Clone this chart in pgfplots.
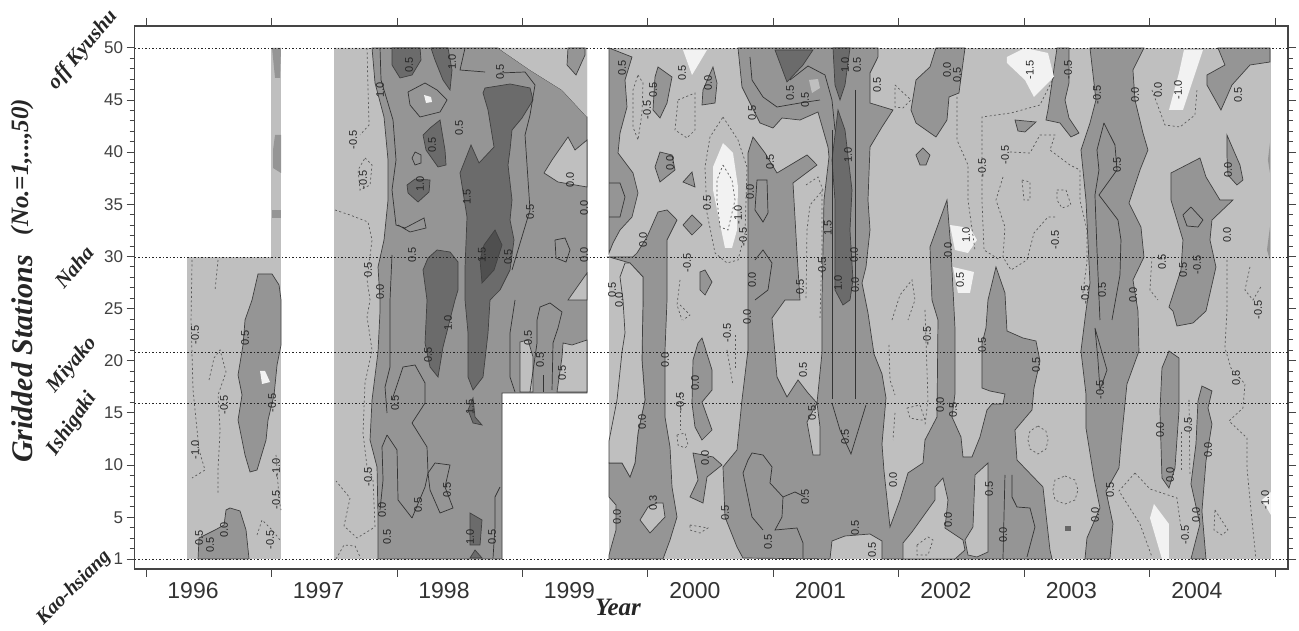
\documentclass[border=0pt]{standalone}
\usepackage{pgfplots}
\pgfplotsset{compat=1.18}
\usepackage{fontspec}
\setmainfont{Liberation Sans}
\newfontfamily\ser{Liberation Serif}
\definecolor{lig}{gray}{0.75}
\definecolor{med}{gray}{0.585}
\definecolor{drk}{gray}{0.42}
\definecolor{dkr}{gray}{0.31}
\definecolor{wht}{gray}{0.95}
\definecolor{fr}{gray}{0.27}
\tikzset{
 L/.style={fill=lig,draw=none},
 M/.style={fill=med,draw=black!75,line width=0.7pt},
 H/.style={fill=lig,draw=black!75,line width=0.7pt},
 D/.style={fill=drk,draw=black!75,line width=0.7pt},
 K/.style={fill=dkr,draw=black!75,line width=0.7pt},
 W/.style={fill=wht,draw=none},
 S/.style={draw=black!80,line width=0.7pt},
 Q/.style={draw=black!65,line width=0.7pt,dash pattern=on 2pt off 2.5pt},
 Z/.style={draw=black!85,line width=0.9pt,dash pattern=on 1.5pt off 2pt},
}
\newcommand\lbl[3]{\node[font=\fontsize{11}{11}\selectfont,rotate=90,text=black!85,inner sep=0pt] at (#1-134.5,569-#2) {#3};}
\newcommand\stn[5]{\node[font=\ser\itshape\bfseries\fontsize{#5}{#5}\selectfont,rotate=#4,text=black!85,inner sep=0pt] at (#1-134.5,569-#2) {#3};}
\begin{document}
\begin{tikzpicture}
\path[use as bounding box] (-134.5pt,-62pt) rectangle (1164.5pt,569pt);
\begin{axis}[
 at={(0pt,0pt)},anchor=south west,scale only axis,width=1153.5pt,height=543pt,
 xmin=1995.908,xmax=2005.1,ymin=0.043,ymax=52.09,
 x filter/.expression={(x-146)/125.5+1996},
 y filter/.expression={50-(y-47.8)/10.433},
 xtick={1996,...,2005},
 xticklabels={1996,1997,1998,1999,2000,2001,2002,2003,2004},
 ytick={1,5,10,15,20,25,30,35,40,45,50},
 tick align=outside,tick pos=both,xticklabel pos=bottom,yticklabel pos=left,
 major tick length=8pt,
 tick style={draw=fr,line width=0.9pt},
 axis line style={draw=fr,line width=1.8pt},
 x tick label style={font=\fontsize{23}{23}\selectfont,text=black!80,xshift=47pt,yshift=-2pt},
 y tick label style={font=\fontsize{17}{17}\selectfont,text=black!75},
 /pgf/number format/assume math mode=true,
 no markers,
]
% light backgrounds
\addplot[L] coordinates {(187,257)(281,257)(281,559)(187,559)} --cycle;
\addplot[L] coordinates {(271,48)(281,48)(281,257)(271,257)} --cycle;
\addplot[L] coordinates {(334,48)(587,48)(587,393)(502,393)(502,559)(334,559)} --cycle;
\addplot[L] coordinates {(609,48)(1271,48)(1271,559)(609,559)} --cycle;
% 1996
\addplot[M] coordinates {(258,274)(272,274)(279,285)(281,300)(281,345)(277,365)(274,395)(268,420)(266,440)(257,470)(250,472)(245,455)(238,420)(242,395)(238,375)(243,345)(245,320)(252,300)} --cycle;
\addplot[W] coordinates {(260,371)(265,371)(270,382)(262,384)} --cycle;
\addplot[M] coordinates {(230,508)(240,511)(246,530)(249,559)(198,559)(199,538)(215,530)(224,525)(226,510)} --cycle;
\addplot[fill=med,draw=none] coordinates {(272,48)(281,48)(280,78)(275,78)} --cycle;
\addplot[fill=med,draw=none] coordinates {(275,135)(281,135)(281,173)(273,168)(273,150)} --cycle;
\addplot[fill=med,draw=none] coordinates {(272,210)(281,210)(281,218)(272,218)} --cycle;
% 1997--1999 medium
\addplot[M] coordinates {(372,48)(498,48)(530,70)(562,90)(587,117)(587,393)(502,393)(502,559)(378,559)(378,517)(377,467)(370,440)(372,400)(378,352)(380,311)(380,300)(378,267)(384,240)(388,200)(388,160)(384,117)(375,83)} --cycle;
\addplot[fill=lig,draw=none] coordinates {(564,48)(587,48)(587,117)(562,90)(530,70)(498,48)} --cycle;
\addplot[M] coordinates {(568,48)(585,48)(585,55)(576,75)(567,65)} --cycle;
\addplot[H] coordinates {(568,137)(575,150)(587,140)(587,187)(558,182)(544,173)(552,160)} --cycle;
\addplot[H] coordinates {(568,300)(587,273)(587,300)} --cycle;
\addplot[H] coordinates {(520,392)(520,342)(528,340)(533,357)(533,392)} --cycle;
\addplot[H] coordinates {(557,392)(562,357)(563,343)(572,345)(587,340)(587,392)} --cycle;
\addplot[D] coordinates {(392,48)(420,48)(421,60)(412,75)(400,78)(392,65)} --cycle;
\addplot[D] coordinates {(431,48)(448,48)(452,70)(450,90)(443,80)(435,60)} --cycle;
\addplot[D] coordinates {(440,120)(445,150)(446,165)(438,167)(426,150)(423,135)(430,128)} --cycle;
\addplot[D] coordinates {(407,185)(415,179)(430,180)(429,192)(418,202)(408,193)} --cycle;
\addplot[D] coordinates {(485,88)(510,84)(530,88)(533,100)(522,118)(512,130)(510,150)(508,165)(512,200)(510,220)(514,240)(510,270)(500,290)(490,300)(488,333)(483,377)(473,390)(468,377)(468,333)(465,300)(465,267)(467,217)(460,173)(471,145)(479,163)(494,147)(488,110)(483,93)} --cycle;
\addplot[D] coordinates {(473,398)(475,417)(482,425)(473,423)(468,410)} --cycle;
\addplot[K] coordinates {(495,230)(502,245)(494,270)(482,283)(480,260)(484,245)} --cycle;
\addplot[D] coordinates {(437,250)(450,252)(458,262)(458,290)(455,300)(443,347)(438,377)(430,367)(425,343)(427,300)(423,270)(428,258)} --cycle;
\addplot[D] coordinates {(470,513)(482,520)(480,545)(470,545)} --cycle;
\addplot[D] coordinates {(470,558)(475,550)(482,558)} --cycle;
\addplot[W] coordinates {(424,95)(431,97)(432,102)(426,103)} --cycle;
% 2000: medium
\addplot[M] coordinates {(609,48)(632,57)(625,80)(627,107)(620,133)(618,153)(633,173)(638,193)(632,217)(620,230)(613,243)(609,253)} --cycle;
\addplot[M] coordinates {(609,257)(630,263)(643,277)(643,300)(642,360)(645,400)(638,433)(635,463)(630,477)(622,463)(609,463)(609,497)(616,505)(616,530)(609,555)(609,559)(663,559)(670,540)(677,517)(672,487)(670,447)(665,417)(665,350)(667,300)(667,240)(677,220)(667,210)(658,212)(647,237)(637,253)(633,257)} --cycle;
\addplot[fill=lig,draw=black!75,line width=0.7pt] coordinates {(625,263)(630,263)(643,277)(643,300)(642,360)(645,400)(638,433)(635,463)(630,477)(622,463)(609,463)(609,441)(617,400)(622,352)(625,333)(623,300)(620,277)} --cycle;
\addplot[H] coordinates {(657,503)(663,503)(665,517)(650,533)(640,520)(648,507)} --cycle;
\addplot[M] coordinates {(658,67)(672,77)(667,103)(660,118)(653,110)(655,77)} --cycle;
\addplot[M] coordinates {(713,67)(717,83)(715,103)(702,105)(703,90)} --cycle;
\addplot[M] coordinates {(655,167)(660,152)(672,155)(675,170)(660,182)} --cycle;
\addplot[M] coordinates {(683,182)(692,172)(695,187)} --cycle;
\addplot[M] coordinates {(683,225)(692,215)(702,225)(692,235)} --cycle;
\addplot[M] coordinates {(700,272)(705,270)(712,282)(705,295)(700,290)} --cycle;
\addplot[M] coordinates {(702,338)(712,370)(712,390)(702,402)(712,430)(702,440)(695,427)(692,403)(693,360)(698,343)} --cycle;
\addplot[M] coordinates {(693,453)(713,457)(722,465)(707,477)(703,503)(690,497)(698,480)} --cycle;
% big 2000--2002
\addplot[M] coordinates {(738,48)(878,48)(878,57)(870,73)(870,103)(893,110)(882,127)(870,147)(868,200)(870,230)(866,267)(862,283)(868,313)(874,354)(882,374)(886,398)(882,444)(884,471)(890,527)(900,500)(908,473)(923,463)(925,440)(937,417)(938,320)(932,300)(930,247)(947,200)(951,250)(955,328)(955,394)(952,417)(961,437)(963,457)(972,457)(980,437)(987,410)(992,404)(1003,404)(1005,394)(990,391)(982,388)(982,344)(986,328)(988,300)(996,267)(1005,293)(1007,331)(1023,338)(1036,341)(1040,361)(1034,388)(1032,410)(1015,430)(1017,460)(1043,487)(1050,550)(1052,559)(882,559)(882,541)(870,534)(845,536)(832,541)(830,559)(743,558)(737,547)(725,517)(723,467)(737,450)(742,400)(748,350)(748,300)(748,253)(748,153)(753,137)(765,153)(777,173)(807,155)(817,165)(793,183)(797,253)(800,300)(785,300)(772,318)(777,377)(787,397)(798,380)(808,393)(817,403)(822,353)(822,300)(824,200)(829,157)(828,147)(818,112)(800,120)(782,118)(773,128)(760,123)(742,87)} --cycle;
\addplot[H] coordinates {(807,422)(817,403)(820,427)(820,455)(813,455)} --cycle;
\addplot[H] coordinates {(903,559)(903,543)(912,532)(935,500)(935,487)(943,478)(948,500)(945,528)(963,540)(965,550)(955,559)} --cycle;
\addplot[H] coordinates {(988,463)(975,475)(973,527)(965,540)(968,555)(977,557)(988,552)} --cycle;
% tops
\addplot[M] coordinates {(936,48)(965,48)(959,93)(949,97)(947,120)(936,137)(916,123)(911,110)(916,80)(930,67)} --cycle;
\addplot[M] coordinates {(916,155)(923,148)(930,155)(926,165)(920,165)} --cycle;
\addplot[M] coordinates {(1015,120)(1036,122)(1025,132)(1018,131)} --cycle;
\addplot[M] coordinates {(1057,48)(1069,48)(1069,83)(1065,100)(1069,118)(1079,133)(1071,137)(1060,123)(1046,120)(1048,110)} --cycle;
\addplot[M] coordinates {(1090,48)(1144,48)(1133,70)(1135,100)(1143,133)(1148,150)(1140,170)(1129,203)(1141,227)(1144,257)(1133,280)(1138,311)(1139,351)(1127,384)(1121,444)(1119,468)(1106,491)(1113,524)(1110,559)(1085,559)(1087,538)(1100,508)(1094,478)(1086,428)(1086,394)(1081,351)(1086,311)(1090,283)(1086,200)(1081,150)(1090,123)(1096,100)} --cycle;
\addplot[M] coordinates {(1200,158)(1171,173)(1171,200)(1183,240)(1181,270)(1169,307)(1173,311)(1177,326)(1193,323)(1206,311)(1216,267)(1210,240)(1212,220)(1233,200)(1220,200)(1206,177)} --cycle;
\addplot[M] coordinates {(1218,48)(1270,48)(1270,62)(1250,65)(1232,85)(1221,110)(1207,85)(1207,75)(1225,65)} --cycle;
\addplot[M] coordinates {(1227,135)(1240,165)(1243,180)(1237,185)(1228,175)(1227,155)} --cycle;
\addplot[fill=med,draw=none] coordinates {(1270,143)(1268,160)(1270,173)} --cycle;
\addplot[fill=med,draw=none] coordinates {(1270,227)(1267,250)(1270,260)} --cycle;
\addplot[M] coordinates {(1169,351)(1179,358)(1179,411)(1175,468)(1169,488)(1162,478)(1160,411)(1162,368)} --cycle;
\addplot[M] coordinates {(1202,386)(1212,391)(1208,408)(1212,424)(1206,461)(1202,511)(1206,559)(1191,559)(1200,524)(1191,484)(1196,444)(1198,401)} --cycle;
% dark
\addplot[D] coordinates {(775,50)(813,50)(803,65)(787,82)} --cycle;
\addplot[D] coordinates {(833,48)(850,48)(845,85)(840,100)(835,85)} --cycle;
\addplot[D] coordinates {(838,110)(845,130)(852,190)(850,230)(853,280)(850,300)(843,305)(835,290)(835,200)(832,160)} --cycle;
% whites
\addplot[W] coordinates {(723,143)(733,153)(738,187)(737,230)(732,248)(725,248)(713,190)(713,167)} --cycle;
\addplot[W] coordinates {(1007,57)(1025,48)(1048,53)(1054,77)(1034,97)(1025,80)(1007,63)} --cycle;
\addplot[W] coordinates {(1184,50)(1203,50)(1183,110)(1169,110)(1179,73)} --cycle;
\addplot[W] coordinates {(683,50)(707,50)(692,75)} --cycle;
\addplot[W] coordinates {(1154,504)(1169,524)(1169,559)(1162,559)(1150,518)} --cycle;
\addplot[W] coordinates {(1262,500)(1271,492)(1271,515)} --cycle;
\addplot[fill=lig,draw=none] coordinates {(809,80)(818,79)(820,88)(812,93)} --cycle;
\addplot[W] coordinates {(950,225)(970,228)(977,240)(968,253)(955,250)} --cycle;
\addplot[W] coordinates {(953,267)(974,272)(970,293)(958,293)} --cycle;
% solid contours
\addplot[S] coordinates {(380,48)(381,80)(393,120)(396,160)(392,190)(396,225)(405,228)(424,218)(426,228)(410,232)(398,225)};
\addplot[S] coordinates {(415,152)(421,155)(421,163)(415,165)(412,158)(415,152)};
\addplot[S] coordinates {(408,92)(425,83)(437,90)(447,100)(440,112)(420,117)(410,105)(408,92)};
\addplot[S] coordinates {(465,48)(460,70)(485,72)};
\addplot[S] coordinates {(500,73)(525,72)(535,85)(530,115)(525,135)(530,210)(518,250)(512,270)};
\addplot[S] coordinates {(555,240)(565,238)(570,250)(566,262)(556,258)(555,240)};
\addplot[S] coordinates {(392,255)(390,300)(390,367)(385,387)(387,413)};
\addplot[S] coordinates {(392,400)(403,367)(415,365)(425,383)(425,403)(412,423)(427,447)(428,473)(425,487)(412,518)};
\addplot[S] coordinates {(387,435)(382,447)(383,480)(380,510)};
\addplot[S] coordinates {(387,435)(397,450)(398,500)(412,518)};
\addplot[S] coordinates {(428,473)(435,463)(450,465)(445,487)(453,508)(440,513)(430,490)(428,473)};
\addplot[S] coordinates {(500,487)(495,497)(495,527)(493,558)};
\addplot[S] coordinates {(515,300)(510,333)(510,377)(515,392)};
\addplot[S] coordinates {(530,392)(537,343)(537,320)(540,307)(550,303)(562,312)(558,328)(553,343)(552,390)};
\addplot[S] coordinates {(543,392)(543,375)};
\addplot[S] coordinates {(855,90)(855,399)};
\addplot[S] coordinates {(832,130)(832,399)};
\addplot[S] coordinates {(832,403)(840,430)(851,454)(866,405)};
\addplot[S] coordinates {(750,57)(752,80)(763,97)(777,107)(800,103)(820,100)};
\addplot[S] coordinates {(790,80)(808,66)(825,75)(832,100)(835,130)};
\addplot[S] coordinates {(755,260)(763,250)(772,263)(768,290)(755,300)};
\addplot[S] coordinates {(757,180)(767,180)(768,213)(763,222)(755,210)(757,180)};
\addplot[S] coordinates {(763,530)(752,517)(743,473)(748,460)(752,453)(763,455)(772,467)(770,483)(783,497)(782,517)(775,530)(797,528)(803,543)(803,558)};
\addplot[S] coordinates {(783,497)(795,492)(805,497)};
\addplot[S] coordinates {(1005,475)(1003,559)};
\addplot[S] coordinates {(1012,475)(1012,497)(1017,507)(1030,508)(1035,527)(1027,557)};
\addplot[S] coordinates {(1104,123)(1115,145)(1117,170)(1099,195)(1118,220)(1121,240)(1120,275)(1112,320)};
\addplot[S] coordinates {(1104,123)(1097,150)(1099,170)(1095,195)(1097,250)(1100,320)};
\addplot[S] coordinates {(1095,328)(1107,370)(1100,390)(1098,360)(1095,328)};
\addplot[S] coordinates {(1191,207)(1203,220)(1198,227)(1187,226)(1183,215)(1191,207)};
\addplot[S] coordinates {(609,183)(620,183)(625,197)(620,217)(609,217)};
% dashed contours
\addplot[Q] coordinates {(192,260)(191,320)(193,390)(199,450)(205,470)(192,478)};
\addplot[Q] coordinates {(218,260)(215,290)};
\addplot[Q] coordinates {(209,380)(214,358)(220,350)(226,372)(218,395)(220,430)(218,470)(218,495)};
\addplot[Q] coordinates {(276,455)(279,500)(281,510)};
\addplot[Q] coordinates {(257,535)(262,520)(272,530)(280,540)};
\addplot[Q] coordinates {(367,48)(368,90)(369,125)(360,135)};
\addplot[Q] coordinates {(335,210)(350,215)(368,222)(372,240)(367,280)(370,300)(367,317)(372,350)(365,383)(363,433)(367,467)(373,480)(375,527)(357,538)(344,526)(350,498)(336,481)};
\addplot[Q] coordinates {(336,559)(344,545)(355,546)(361,559)};
\addplot[Q] coordinates {(365,158)(372,165)(370,185)(360,190)(358,170)(365,158)};
\addplot[Q] coordinates {(678,100)(695,93)(695,130)(687,138)(675,130)(678,100)};
\addplot[Q] coordinates {(723,117)(738,140)(747,167)(745,233)(738,260)(727,263)(715,253)(707,213)(705,167)(710,137)(723,117)};
\addplot[Q] coordinates {(723,165)(732,180)(735,200)(728,230)(720,227)(717,200)(717,180)(723,165)};
\addplot[Q] coordinates {(806,185)(818,177)(823,190)(810,205)(807,230)(806,300)};
\addplot[Q] coordinates {(822,190)(822,250)(820,320)};
\addplot[Q] coordinates {(638,75)(643,83)(642,113)(638,140)(633,127)(633,90)(638,75)};
\addplot[Q] coordinates {(680,280)(677,305)(682,320)};
\addplot[Q] coordinates {(680,305)(690,315)(683,320)};
\addplot[Q] coordinates {(727,350)(733,385)};
\addplot[Q] coordinates {(735,335)(735,370)};
\addplot[Q] coordinates {(677,435)(685,433)(688,445)(685,448)(678,445)(677,435)};
\addplot[Q] coordinates {(680,393)(680,430)};
\addplot[Q] coordinates {(690,525)(708,528)(700,533)(690,530)(690,525)};
\addplot[Q] coordinates {(895,85)(911,100)(903,108)(895,107)(895,85)};
\addplot[Q] coordinates {(957,97)(957,140)(968,165)(968,200)(975,250)};
\addplot[Q] coordinates {(1054,77)(1040,105)(1011,113)(982,117)(982,165)(982,200)(984,250)(1000,260)};
\addplot[Q] coordinates {(1003,177)(996,200)(1005,227)(1003,257)(1011,270)(1027,260)(1034,233)(1048,217)(1056,217)};
\addplot[Q] coordinates {(1010,152)(1030,153)(1040,135)(1055,135)(1050,150)(1070,165)(1080,170)(1080,200)(1087,230)(1087,262)(1082,300)};
\addplot[Q] coordinates {(1022,180)(1030,182)(1030,200)(1024,200)(1022,180)};
\addplot[Q] coordinates {(1057,190)(1066,190)(1071,205)(1062,208)(1057,200)(1057,190)};
\addplot[Q] coordinates {(892,320)(900,295)(912,280)(915,300)(908,320)};
\addplot[Q] coordinates {(889,345)(890,380)(895,395)};
\addplot[Q] coordinates {(895,413)(893,440)};
\addplot[Q] coordinates {(925,310)(928,400)(925,425)};
\addplot[Q] coordinates {(907,408)(920,405)(925,420)(920,420)(910,418)(907,408)};
\addplot[Q] coordinates {(1065,476)(1075,480)(1078,490)(1075,500)(1065,504)(1055,500)(1053,490)(1055,480)(1065,476)};
\addplot[Q] coordinates {(1038,426)(1046,431)(1048,440)(1046,449)(1038,454)(1030,449)(1028,440)(1030,431)(1038,426)};
\addplot[Q] coordinates {(917,545)(928,537)(933,540)(928,555)(917,555)(917,545)};
\addplot[fill=black!60,draw=none] coordinates {(1065,526)(1071,526)(1071,531)(1065,531)} --cycle;
\addplot[Q] coordinates {(1152,90)(1165,125)(1180,127)(1195,115)(1197,90)};
\addplot[Q] coordinates {(1227,260)(1227,311)(1225,348)(1231,368)(1245,384)(1243,408)(1229,421)(1247,438)(1247,468)(1252,520)(1256,559)};
\addplot[Q] coordinates {(1250,267)(1245,290)(1253,300)(1262,285)};
\addplot[Q] coordinates {(1152,257)(1150,290)(1158,300)};
\addplot[Q] coordinates {(1135,473)(1119,491)(1140,524)(1152,557)};
\addplot[Q] coordinates {(1135,473)(1150,489)(1177,498)(1181,528)};
\addplot[Q] coordinates {(1215,510)(1228,530)(1222,535)(1214,530)(1215,510)};
\addplot[Q] coordinates {(1181,432)(1181,470)};
\addplot[Q] coordinates {(1189,400)(1190,475)};
% station lines
\addplot[Z] coordinates {(134.5,48)(1288,48)};
\addplot[Z] coordinates {(134.5,257)(1288,257)};
\addplot[Z] coordinates {(134.5,352)(1288,352)};
\addplot[Z] coordinates {(134.5,403)(1288,403)};
\addplot[Z] coordinates {(134.5,559)(1288,559)};
\end{axis}
\begin{scope}[x=1pt,y=1pt]
\foreach \k in {2,3,4,6,7,8,9,11,12,13,14,16,17,18,19,21,22,23,24,26,27,28,29,31,32,33,34,36,37,38,39,41,42,43,44,46,47,48,49}{
 \draw[fr,line width=0.9pt] (-5,{521.2-(50-\k)*10.433}) -- (0,{521.2-(50-\k)*10.433});
 \draw[fr,line width=0.9pt] (1153.5,{521.2-(50-\k)*10.433}) -- (1158.5,{521.2-(50-\k)*10.433});
}
\node[font=\ser\itshape\bfseries\fontsize{30}{30}\selectfont,rotate=90,text=black!85,inner sep=0pt] at (22-134.5,569-359) {Gridded Stations};
\node[font=\ser\itshape\bfseries\fontsize{25}{25}\selectfont,rotate=90,text=black!85,inner sep=0pt] at (22-134.5,569-167) {(No.=1,...,50)};
\node[font=\ser\itshape\bfseries\fontsize{25}{25}\selectfont,text=black!85,inner sep=0pt] at (618-134.5,569-607) {Year};
\stn{83}{50}{off Kyushu}{50}{21}
\stn{74}{267}{Naha}{50}{21}
\stn{72}{365}{Miyako}{50}{21}
\stn{72}{424}{Ishigaki}{55}{21}
\stn{74}{588}{Kao-hsiang}{45}{20}
\lbl{245}{338}{0.5}\lbl{272}{403}{-0.5}\lbl{224}{405}{-0.5}\lbl{195}{335}{-0.5}\lbl{195}{450}{-1.0}\lbl{276}{468}{-1.0}\lbl{276}{500}{-0.5}\lbl{199}{538}{0.5}\lbl{224}{530}{0.0}\lbl{210}{545}{0.5}\lbl{270}{540}{-0.5}
\lbl{353}{140}{-0.5}\lbl{363}{180}{-0.5}\lbl{368}{270}{0.5}\lbl{380}{292}{0.0}\lbl{368}{477}{-0.5}\lbl{382}{510}{0.0}\lbl{387}{537}{0.5}
\lbl{380}{90}{1.0}\lbl{409}{65}{0.5}\lbl{452}{62}{1.0}\lbl{500}{72}{0.5}\lbl{432}{145}{0.5}\lbl{459}{128}{0.5}\lbl{420}{184}{1.0}\lbl{467}{197}{1.5}\lbl{570}{180}{0.0}\lbl{530}{212}{0.5}\lbl{584}{208}{0.0}\lbl{584}{255}{0.0}\lbl{412}{255}{0.5}\lbl{508}{257}{0.5}\lbl{482}{255}{1.5}\lbl{448}{323}{1.0}\lbl{428}{355}{0.5}\lbl{395}{403}{0.5}\lbl{470}{407}{1.5}\lbl{418}{505}{0.5}\lbl{447}{490}{0.5}\lbl{470}{537}{1.0}\lbl{492}{537}{0.5}\lbl{528}{338}{0.5}\lbl{540}{360}{0.5}\lbl{562}{373}{0.5}
\lbl{622}{68}{0.5}\lbl{647}{110}{-0.5}\lbl{653}{90}{0.5}\lbl{682}{73}{0.5}\lbl{708}{83}{0.0}\lbl{670}{163}{0.0}\lbl{707}{203}{0.5}\lbl{750}{192}{0.0}\lbl{738}{215}{-1.0}\lbl{743}{237}{-0.5}\lbl{770}{162}{0.5}\lbl{752}{113}{0.5}\lbl{643}{240}{0.0}\lbl{687}{263}{-0.5}\lbl{752}{280}{0.0}\lbl{800}{287}{0.5}\lbl{790}{93}{0.5}\lbl{805}{100}{0.5}
\lbl{617}{517}{0.0}\lbl{665}{360}{0.0}\lbl{642}{422}{0.0}\lbl{680}{402}{-0.5}\lbl{727}{333}{-0.5}\lbl{695}{383}{0.0}\lbl{705}{458}{0.0}\lbl{653}{503}{0.3}\lbl{725}{513}{0.5}\lbl{747}{317}{0.0}\lbl{805}{497}{0.5}\lbl{768}{542}{0.5}\lbl{812}{413}{0.5}\lbl{803}{370}{0.5}\lbl{612}{290}{0.5}\lbl{619}{300}{0.0}
\lbl{845}{65}{1.0}\lbl{857}{65}{0.5}\lbl{848}{155}{1.0}\lbl{828}{228}{1.5}\lbl{822}{265}{0.5}\lbl{854}{255}{0.0}\lbl{838}{283}{1.0}\lbl{855}{285}{0.0}\lbl{877}{85}{0.5}\lbl{845}{437}{0.5}\lbl{893}{480}{0.0}\lbl{872}{550}{0.5}\lbl{855}{528}{0.5}
\lbl{947}{70}{0.0}\lbl{957}{75}{0.5}\lbl{948}{250}{0.0}\lbl{966}{235}{1.0}\lbl{960}{280}{0.5}\lbl{982}{168}{-0.5}\lbl{1005}{155}{-0.5}\lbl{1055}{240}{-0.5}\lbl{982}{345}{0.5}\lbl{1036}{365}{0.5}\lbl{927}{336}{-0.5}\lbl{940}{405}{0.0}\lbl{953}{410}{0.5}\lbl{948}{520}{0.0}\lbl{989}{489}{0.5}\lbl{1003}{535}{0.0}\lbl{1030}{70}{-1.5}
\lbl{1068}{70}{-0.5}\lbl{1097}{95}{-0.5}\lbl{1135}{95}{0.0}\lbl{1117}{165}{0.5}\lbl{1133}{295}{0.0}\lbl{1085}{295}{-0.5}\lbl{1102}{290}{0.5}\lbl{1100}{390}{-0.5}\lbl{1110}{490}{0.5}\lbl{1095}{515}{0.0}
\lbl{1158}{90}{0.0}\lbl{1178}{90}{-1.0}\lbl{1162}{262}{0.5}\lbl{1228}{170}{0.0}\lbl{1227}{235}{0.0}\lbl{1183}{270}{0.5}\lbl{1197}{265}{-0.5}\lbl{1160}{430}{0.0}\lbl{1170}{475}{0.0}\lbl{1188}{425}{0.5}\lbl{1208}{450}{0.0}\lbl{1196}{515}{0.0}\lbl{1185}{535}{-0.5}\lbl{1238}{95}{0.5}\lbl{1258}{310}{-0.5}\lbl{1265}{500}{-1.0}\lbl{1236}{378}{0.5}
\end{scope}
\end{tikzpicture}
\end{document}
